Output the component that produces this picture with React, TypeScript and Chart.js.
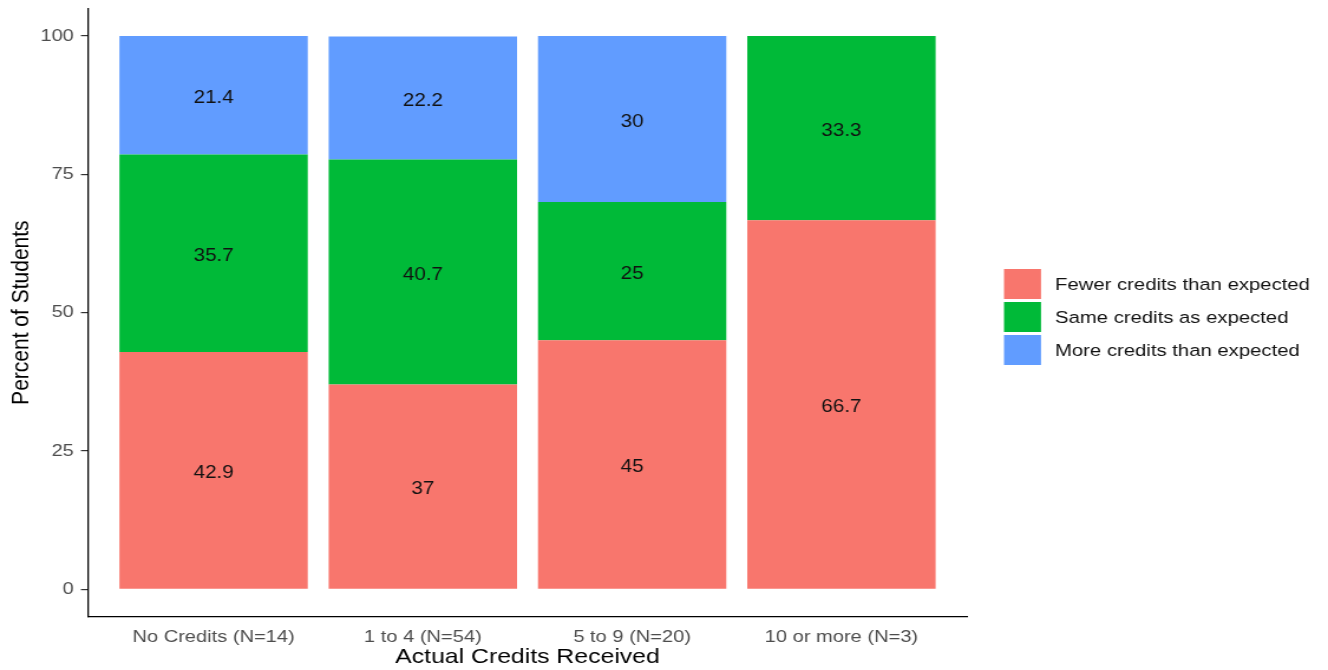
import React, { useEffect, useRef } from "react";
import { Chart, registerables } from "chart.js";

Chart.register(...registerables);

// ---- data ----
const categories = ["No Credits (N=14)", "1 to 4 (N=54)", "5 to 9 (N=20)", "10 or more (N=3)"];
const seriesNames = ["Fewer credits than expected", "Same credits as expected", "More credits than expected"];
const fewerValues = [42.9, 37, 45, 66.7];
const sameValues = [35.7, 40.7, 25, 33.3];
const moreValues = [21.4, 22.2, 30, 0];
const yTickValues = [0, 25, 50, 75, 100];
const seriesColors = ["#F8766D", "#00BA38", "#619CFF"];

const allSeries = [fewerValues, sameValues, moreValues];

// ---- rendering geometry (the reference picture is horizontally stretched) ----
const OUT_W = 1328;
const OUT_H = 670;
const W = 1125; // internal canvas width, stretched by CSS to OUT_W
const SX = OUT_W / W;
const FONT = '"Liberation Sans", Arial, Helvetica, sans-serif';

const legendPlugin = {
  id: "customLegend",
  afterDraw(chart: any) {
    const ctx = chart.ctx;
    const left = 1004 / SX;
    const keyW = 37 / SX;
    const keyH = 30;
    const step = 33;
    const top = 269;
    const textX = 1055 / SX;
    ctx.save();
    ctx.font = `17.2px ${FONT}`;
    ctx.textAlign = "left";
    ctx.textBaseline = "middle";
    chart.data.datasets.forEach((ds: any, i: number) => {
      const y = top + i * step;
      ctx.fillStyle = ds.backgroundColor;
      ctx.fillRect(left, y, keyW, keyH);
      ctx.fillStyle = "#111";
      ctx.fillText(ds.label, textX, y + keyH / 2 + 1.5);
    });
    ctx.restore();
  },
};

const segLabelPlugin = {
  id: "segLabels",
  afterDatasetsDraw(chart: any) {
    const ctx = chart.ctx;
    ctx.save();
    ctx.font = `17.5px ${FONT}`;
    ctx.fillStyle = "#111";
    ctx.textAlign = "center";
    ctx.textBaseline = "middle";
    chart.data.datasets.forEach((_ds: any, di: number) => {
      const meta = chart.getDatasetMeta(di);
      meta.data.forEach((el: any, i: number) => {
        const v = allSeries[di][i];
        if (!v) return;
        const p = el.getProps(["x", "y", "base"], true);
        ctx.fillText(String(v), p.x, (p.y + p.base) / 2 + 3);
      });
    });
    ctx.restore();
  },
};

export default function App() {
  const ref = useRef<HTMLCanvasElement | null>(null);

  useEffect(() => {
    if (!ref.current) return;
    const datasets = allSeries.map((vals, si) => ({
      label: seriesNames[si],
      data: vals.map((v, i) => ({ x: i + 1, y: v })),
      backgroundColor: seriesColors[si],
      borderWidth: 0,
      categoryPercentage: 1,
      barPercentage: 0.9,
    }));

    const chart = new Chart(ref.current, {
      type: "bar",
      data: { datasets },
      plugins: [segLabelPlugin, legendPlugin],
      options: {
        animation: false,
        responsive: false,
        maintainAspectRatio: false,
        devicePixelRatio: 1,
        layout: { padding: { top: 8.34, left: 0, right: W - 967 / SX, bottom: 0 } },
        plugins: {
          legend: { display: false },
          tooltip: { enabled: false },
          title: { display: false },
        },
        scales: {
          x: {
            type: "linear",
            min: 0.4,
            max: 4.6,
            offset: false,
            stacked: true,
            grid: { display: false, drawTicks: false },
            border: { display: true, color: "#000", width: 1.3 },
            afterBuildTicks: (s: any) => {
              s.ticks = categories.map((_c, i) => ({ value: i + 1 }));
            },
            afterFit: (s: any) => {
              s.height = OUT_H - 616.97;
              s.paddingLeft = 0;
              s.paddingRight = 0;
            },
            ticks: {
              padding: 10,
              color: "#4d4d4d",
              font: { family: FONT, size: 17 },
              maxRotation: 0,
              autoSkip: false,
              callback: (v: any) => categories[Math.round(v) - 1] ?? "",
            },
            title: {
              display: true,
              text: "Actual Credits Received",
              color: "#000",
              font: { family: FONT, size: 21 },
              padding: { top: 0, bottom: 0 },
            },
          },
          y: {
            type: "linear",
            min: -5,
            max: 105,
            stacked: true,
            grid: {
              display: true,
              drawOnChartArea: false,
              drawTicks: true,
              tickLength: 6,
              tickColor: "#333",
              lineWidth: 1.2,
            },
            border: { display: true, color: "#000", width: 1.3 },
            afterBuildTicks: (s: any) => {
              s.ticks = yTickValues.map((v) => ({ value: v }));
            },
            afterFit: (s: any) => {
              s.width = 88 / SX;
              s.paddingTop = 0;
              s.paddingBottom = 0;
            },
            ticks: {
              padding: 6,
              color: "#4d4d4d",
              font: { family: FONT, size: 17 },
            },
            title: {
              display: true,
              text: "Percent of Students",
              color: "#000",
              font: { family: FONT, size: 21 },
              padding: { top: 6, bottom: 0 },
            },
          },
        },
      } as any,
    });
    return () => chart.destroy();
  }, []);

  return (
    <div style={{ position: "absolute", left: 0, top: 0, width: OUT_W, height: OUT_H, background: "#fff" }}>
      <canvas
        ref={ref}
        width={W}
        height={OUT_H}
        style={{ width: `${OUT_W}px`, height: `${OUT_H}px`, display: "block" }}
      />
    </div>
  );
}
